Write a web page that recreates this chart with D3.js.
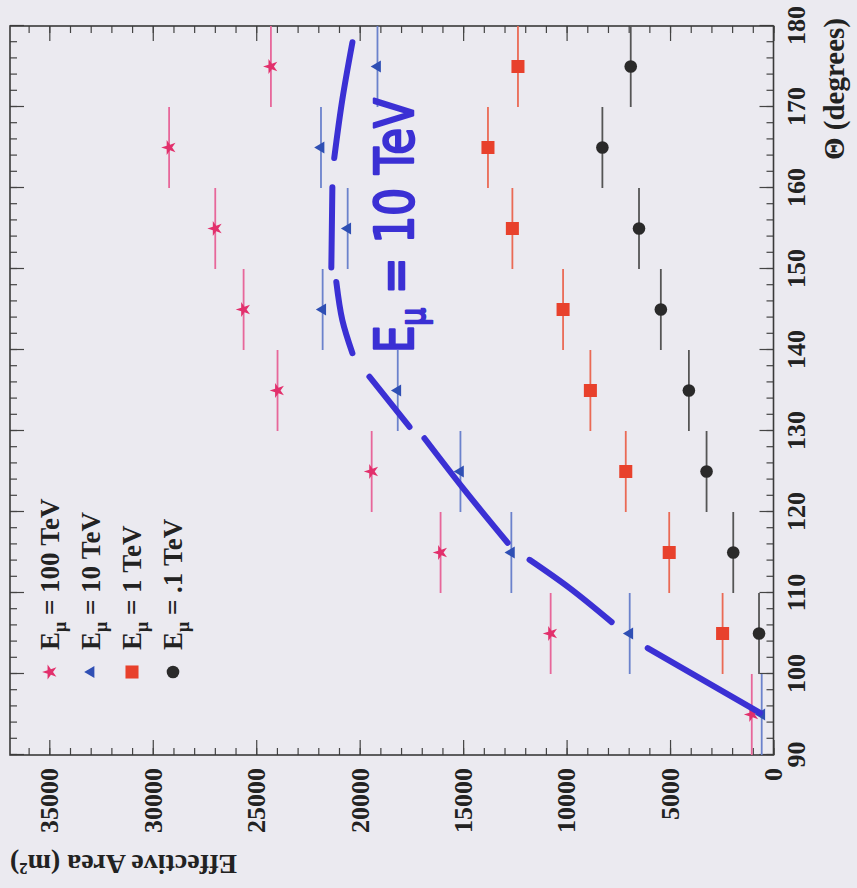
<!DOCTYPE html>
<html>
<head>
<meta charset="utf-8">
<script src="https://cdn.jsdelivr.net/npm/d3@7"></script>
<style>
  body { margin: 0; background: #ebeaf0; }
  svg { display: block; }
  text { font-family: "Liberation Serif", "Times New Roman", serif; font-weight: bold; fill: #222; }
</style>
</head>
<body>
<svg id="chart" width="857" height="888"></svg>
<script>
const theta = [95, 105, 115, 125, 135, 145, 155, 165, 175];
const thetaErr = 5;
const area100 = [1050, 10770, 16090, 19420, 23970, 25610, 26980, 29210, 24290];
const area10 = [570, 6950, 12670, 15130, 18160, 21790, 20580, 21870, 19140];
const area1 = [null, 2460, 5040, 7140, 8850, 10170, 12620, 13800, 12350];
const area01 = [null, 700, 1945, 3235, 4090, 5445, 6500, 8270, 6900];
const seriesNames = ["100 TeV", "10 TeV", "1 TeV", ".1 TeV"];
const xTicks = d3.range(90, 181, 10);
const yTicks = d3.range(0, 35001, 5000);

// hand drawn pen strokes over the 10 TeV points (data units)
const penStrokes = [
  [[178.0, 20350], [170.9, 20840], [163.7, 21230]],
  [[160.1, 21320], [150.2, 21370]],
  [[148.4, 21130], [143.7, 20840], [139.6, 20350]],
  [[136.7, 19530], [130.5, 17590]],
  [[129.1, 16870], [122.6, 14900], [116.2, 12850]],
  [[114.1, 11790], [110.6, 9850], [106.4, 7820]],
  [[103.2, 6080], [95.2, 650]]
];

const series = [
  { values: area100, symbol: d3.symbolStar, size: 70, fill: "#e2306c", bar: "#e7679a" },
  { values: area10, symbol: d3.symbolTriangle, size: 60, fill: "#2f4fb4", bar: "#6b82cc" },
  { values: area1, symbol: d3.symbolSquare, size: 170, fill: "#e8412c", bar: "#ea6a55" },
  { values: area01, symbol: d3.symbolCircle, size: 125, fill: "#2a2a2a", bar: "#555" }
];

// the scanned plot is turned a quarter turn, so draw it upright and rotate
const W = 729, H = 763.5;
const x = d3.scaleLinear().domain([90, 180]).range([0, W]);
const y = d3.scaleLinear().domain([0, 36900]).range([H, 0]);

const svg = d3.select("#chart");
const g = svg.append("g").attr("transform", "translate(10,755) rotate(-90)");

function ticks(axis, tr, values, size, labels) {
  const a = g.append("g")
    .attr("transform", tr)
    .call(axis.tickValues(values).tickSize(size).tickPadding(labels ? 13 : 0)
      .tickFormat(labels ? d3.format("d") : ""));
  a.select(".domain").remove();
  a.selectAll("line").attr("stroke", "#444").attr("stroke-width", 1.2);
  a.selectAll("text").attr("font-size", 26).attr("fill", "#222");
  return a;
}

ticks(d3.axisBottom(x), `translate(0,${H})`, xTicks, -14, true);
ticks(d3.axisBottom(x), `translate(0,${H})`, d3.range(90, 180, 2), -7, false);
ticks(d3.axisTop(x), "translate(0,0)", xTicks, -14, false);
ticks(d3.axisTop(x), "translate(0,0)", d3.range(90, 180, 2), -7, false);
ticks(d3.axisLeft(y), "translate(0,0)", yTicks, -15, true);
ticks(d3.axisLeft(y), "translate(0,0)", d3.range(0, 36001, 1000), -7, false);
ticks(d3.axisRight(y), `translate(${W},0)`, yTicks, -15, false);
ticks(d3.axisRight(y), `translate(${W},0)`, d3.range(0, 36001, 1000), -7, false);

g.append("rect")
  .attr("width", W).attr("height", H)
  .attr("fill", "none").attr("stroke", "#3a3a3a").attr("stroke-width", 1.6);

g.append("text")
  .attr("x", W + 8).attr("y", H + 70)
  .attr("text-anchor", "end").attr("font-size", 29)
  .text("\u0398 (degrees)");

g.append("text")
  .attr("transform", "translate(-100,0) rotate(-90)")
  .attr("text-anchor", "end").attr("font-size", 28)
  .text("Effective Area (m\u00b2)");

series.forEach(s => {
  const pts = theta.map((t, i) => ({ t, v: s.values[i] })).filter(d => d.v != null);
  const sg = g.append("g");
  sg.selectAll("line")
    .data(pts)
    .join("line")
      .attr("x1", d => x(d.t - thetaErr))
      .attr("x2", d => x(d.t + thetaErr))
      .attr("y1", d => y(d.v))
      .attr("y2", d => y(d.v))
      .attr("stroke", s.bar)
      .attr("stroke-width", 1.8);
  sg.selectAll("path")
    .data(pts)
    .join("path")
      .attr("d", d3.symbol(s.symbol, s.size))
      .attr("transform", d => `translate(${x(d.t)},${y(d.v)})`)
      .attr("fill", s.fill);
});

// legend
series.forEach((s, i) => {
  const row = 40 + i * 41;
  g.append("path")
    .attr("d", d3.symbol(s.symbol, s.size)())
    .attr("transform", `translate(83,${row})`)
    .attr("fill", s.fill);
  const t = g.append("text")
    .attr("x", 105).attr("y", row + 9)
    .attr("font-size", 27);
  t.append("tspan").text("E");
  t.append("tspan").attr("font-size", 18).attr("dy", 7).text("\u03bc");
  t.append("tspan").attr("dy", -7).text(" = " + seriesNames[i]);
});

// pen annotation
const pen = d3.line()
  .x(d => x(d[0]))
  .y(d => y(d[1]))
  .curve(d3.curveCatmullRom);

g.append("g")
  .selectAll("path")
  .data(penStrokes)
  .join("path")
    .attr("d", pen)
    .attr("fill", "none")
    .attr("stroke", "#3b30d4")
    .attr("stroke-width", 6)
    .attr("stroke-linecap", "round");

const note = g.append("text")
  .attr("x", 402).attr("y", 403)
  .attr("textLength", 255).attr("lengthAdjust", "spacingAndGlyphs")
  .attr("font-size", 54)
  .style("font-family", "'DejaVu Sans', sans-serif")
  .style("font-weight", "normal")
  .style("fill", "#3b30d4")
  .attr("stroke", "#3b30d4").attr("stroke-width", 2.5)
  .attr("stroke-linejoin", "round");
note.append("tspan").text("E");
note.append("tspan").attr("font-size", 34).attr("dy", 12).text("\u03bc");
note.append("tspan").attr("dy", -12).text(" = 10 TeV");
</script>
</body>
</html>
